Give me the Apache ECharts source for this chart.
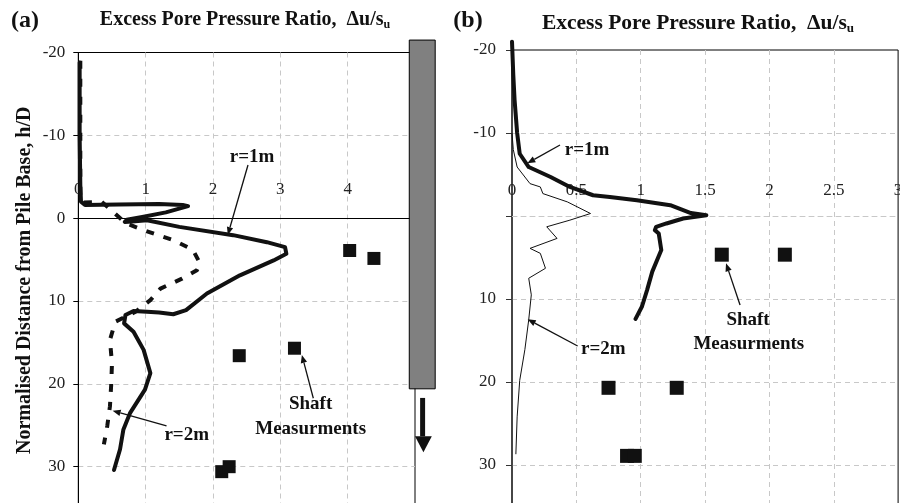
<!DOCTYPE html>
<html><head><meta charset="utf-8">
<script src="https://cdn.jsdelivr.net/npm/echarts@6/dist/echarts.min.js"></script>
<style>html,body{margin:0;padding:0;background:#fff}#c{width:900px;height:503px}</style>
</head><body><div id="c"></div>
<script>
// ---------- data ----------
const xTicksA = [0, 1, 2, 3, 4];
const yTicksA = [-20, -10, 0, 10, 20, 30];
const xTicksB = [0, 0.5, 1, 1.5, 2, 2.5, 3];
const yTicksB = [-20, -10, 10, 20, 30];

// panel (a): [excess pore pressure ratio, h/D]
const panelA_r1m = [[0.02,-18.8],[0.02,-10],[0.03,-4],[0.04,-2.0],[0.1,-1.6],[0.6,-1.65],[1.2,-1.7],[1.55,-1.6],[1.63,-1.45],[1.3,-0.7],[0.95,-0.15],[0.72,0.2],[0.69,0.45],[0.8,0.4],[1.02,0.25],[1.5,1.05],[2.3,2.05],[2.8,2.9],[3.07,3.5],[3.09,4.3],[2.9,5.1],[2.4,6.9],[1.91,9.1],[1.6,11.1],[1.41,11.6],[1.2,11.4],[1.02,11.3],[0.82,11.2],[0.7,11.7],[0.68,12.7],[0.82,13.7],[0.97,15.9],[1.07,18.7],[0.99,20.7],[0.77,23.5],[0.67,25.5],[0.62,27.9],[0.53,30.4]];
const panelA_r2m = [[0.03,-19],[0.03,-10],[0.03,-3],[0.05,-1.9],[0.35,-1.95],[0.5,-0.9],[0.7,0.6],[0.97,1.45],[1.41,2.65],[1.7,3.8],[1.81,5.5],[1.76,6.3],[1.54,7.3],[1.22,8.5],[1.07,9.9],[0.85,11.3],[0.55,12.5],[0.47,14.7],[0.5,17.5],[0.49,19.9],[0.47,22.7],[0.43,25.1],[0.38,27.3]];
const panelA_shaft = [[4.03,3.9],[4.39,4.86],[2.39,16.6],[3.21,15.7],[2.13,30.6],[2.24,30.0]];

// panel (b)
const panelB_r1m = [[0.0,-21],[0.01,-17],[0.02,-14],[0.04,-10],[0.06,-7.5],[0.13,-5.9],[0.3,-4.7],[0.45,-3.5],[0.63,-2.5],[0.76,-2.3],[0.97,-1.9],[1.23,-1.3],[1.39,-0.35],[1.51,-0.1],[1.33,0.3],[1.2,0.9],[1.12,1.3],[1.11,1.7],[1.14,2.1],[1.16,4.1],[1.09,6.7],[1.05,8.9],[1.01,10.9],[0.96,12.4]];
const panelB_r2m = [[0.0,-10],[0.01,-8],[0.04,-5.9],[0.14,-3.9],[0.22,-3.5],[0.24,-2.7],[0.43,-1.7],[0.61,-0.3],[0.45,0.5],[0.27,1.3],[0.35,2.7],[0.14,3.9],[0.22,4.5],[0.26,6.3],[0.13,7.5],[0.15,9.5],[0.13,12.5],[0.1,16.1],[0.06,19.8],[0.04,24.2],[0.03,28.7]];
const panelB_shaft = [[1.63,4.66],[2.12,4.66],[0.75,20.7],[1.28,20.7],[0.894,28.9],[0.954,28.9]];

// annotations (data coordinates of each panel)
const notesA = [
  {text: 'r=1m', at: [2.58, -7.4], from: [2.52, -6.42], to: [2.22, 2.03]},
  {text: 'Shaft', at: [3.45, 22.4], from: [3.49, 21.74], to: [3.32, 16.51]},
  {text: 'Measurments', at: [3.45, 25.45]},
  {text: 'r=2m', at: [1.61, 26.2], from: [1.31, 25.08], to: [0.51, 23.24]}
];
const notesB = [
  {text: 'r=1m', at: [0.583, -7.95], from: [0.373, -8.55], to: [0.119, -6.35]},
  {text: 'r=2m', at: [0.71, 16.06], from: [0.51, 15.66], to: [0.122, 12.45]},
  {text: 'Shaft', at: [1.834, 12.53], from: [1.772, 10.72], to: [1.663, 5.7]},
  {text: 'Measurments', at: [1.84, 15.46]}
];
const titleText = 'Excess Pore Pressure Ratio,  \u0394u/s';
const yTitle = 'Normalised Distance from Pile Base, h/D';

// ---------- chart ----------
const FONT = "'Liberation Serif', 'Times New Roman', serif";
const gridLine = {color: '#c8c8c8', type: [5, 4], width: 1};
const chart = echarts.init(document.getElementById('c'), null, {renderer: 'canvas'});

function tickFmt(list) { return v => (list.some(t => Math.abs(t - v) < 1e-9) ? String(v) : ''); }
const lbl = (margin, list) => ({margin, fontFamily: FONT, fontSize: 17, color: '#222', formatter: tickFmt(list)});
const GRID_TOP = [52.5, 50];

const option = {
  animation: false,
  backgroundColor: '#fff',
  grid: [
    {left: 78.3, top: GRID_TOP[0], width: 336.7, height: 455.6, show: true, borderColor: '#000', borderWidth: 1, outerBoundsMode: 'none'},
    {left: 512, top: GRID_TOP[1], width: 386.1, height: 456.5, show: true, borderColor: '#000', borderWidth: 1, outerBoundsMode: 'none'}
  ],
  xAxis: [
    {gridIndex: 0, type: 'value', min: 0, max: 5, interval: 1, position: 'top', offset: 0,
     axisLine: {show: true, onZero: false, lineStyle: {color: '#000', width: 1}},
     axisTick: {show: false}, axisLabel: lbl(20, xTicksA),
     splitLine: {show: true, showMinLine: false, showMaxLine: false, lineStyle: gridLine}},
    {gridIndex: 1, type: 'value', min: 0, max: 3, interval: 0.5, position: 'top', offset: 0,
     axisLine: {show: true, onZero: false, lineStyle: gridLine},
     axisTick: {show: false}, axisLabel: lbl(17, xTicksB),
     splitLine: {show: true, showMinLine: false, showMaxLine: false, lineStyle: gridLine}}
  ],
  yAxis: [
    {gridIndex: 0, type: 'value', inverse: true, min: -20, max: 35, interval: 10,
     axisLine: {show: true, onZero: false, lineStyle: {color: '#000', width: 1}},
     axisTick: {show: true, length: 5, lineStyle: {color: '#000'}},
     axisLabel: lbl(13, yTicksA),
     splitLine: {show: true, showMinLine: false, lineStyle: gridLine},
     name: yTitle, nameLocation: 'middle', nameGap: 43,
     nameTextStyle: {fontFamily: FONT, fontSize: 20, fontWeight: 'bold', color: '#111'}},
    {gridIndex: 1, type: 'value', inverse: true, min: -20, max: 35, interval: 10,
     axisLine: {show: true, onZero: false, lineStyle: {color: '#333', width: 1.5}},
     axisTick: {show: true, length: 6, lineStyle: {color: '#333'}},
     axisLabel: lbl(16, yTicksB),
     splitLine: {show: true, showMinLine: false, lineStyle: gridLine}}
  ],
  series: [
    {type: 'line', xAxisIndex: 0, yAxisIndex: 0, data: panelA_r2m, showSymbol: false, z: 3,
     lineStyle: {color: '#111', width: 4, type: [8, 10], cap: 'butt', join: 'round'}},
    {type: 'line', xAxisIndex: 0, yAxisIndex: 0, data: panelA_r1m, showSymbol: false, z: 4,
     lineStyle: {color: '#111', width: 4, cap: 'round', join: 'round'}},
    {type: 'scatter', xAxisIndex: 0, yAxisIndex: 0, data: panelA_shaft, symbol: 'rect', symbolSize: 13, z: 5,
     itemStyle: {color: '#111', opacity: 1}},
    {type: 'line', xAxisIndex: 1, yAxisIndex: 1, data: panelB_r2m, showSymbol: false, z: 3,
     lineStyle: {color: '#111', width: 1, join: 'round'}},
    {type: 'line', xAxisIndex: 1, yAxisIndex: 1, data: panelB_r1m, showSymbol: false, z: 4, clip: false,
     lineStyle: {color: '#111', width: 4, cap: 'round', join: 'round'}},
    {type: 'scatter', xAxisIndex: 1, yAxisIndex: 1, data: panelB_shaft, symbol: 'rect', symbolSize: 14, z: 5,
     itemStyle: {color: '#111', opacity: 1}}
  ]
};
chart.setOption(option);

const P = (g, p) => chart.convertToPixel({gridIndex: g}, p);
// place each x axis (with its labels) on the h/D = 0 line, through the y scale
chart.setOption({xAxis: [
  {offset: -(P(0, [0, 0])[1] - GRID_TOP[0])},
  {offset: -(P(1, [0, 0])[1] - GRID_TOP[1])}
]});

// ---------- annotations (positioned through the axes) ----------
const gfx = [];
function titleEl(x, y, fs) {
  return {type: 'text', x, y, z: 100, style: {
    text: '{m|' + titleText + '}{s|u}', align: 'center', verticalAlign: 'middle',
    rich: {
      m: {fontFamily: FONT, fontSize: fs, fontWeight: 'bold', fill: '#111', lineHeight: fs + 2},
      s: {fontFamily: FONT, fontSize: Math.round(fs * 0.62), fontWeight: 'bold', fill: '#111', verticalAlign: 'bottom', lineHeight: fs + 2}
    }}};
}
function txt(x, y, text, fs) {
  return {type: 'text', x, y, z: 100, style: {text, fontFamily: FONT, fontSize: fs, fontWeight: 'bold', fill: '#111', align: 'center', verticalAlign: 'middle'}};
}
function arrow(a, b, len, half, w) {
  const dx = b[0] - a[0], dy = b[1] - a[1], L = Math.hypot(dx, dy), ux = dx / L, uy = dy / L;
  const bx = b[0] - ux * len, by = b[1] - uy * len;
  gfx.push({type: 'line', z: 100, shape: {x1: a[0], y1: a[1], x2: bx, y2: by}, style: {stroke: '#111', lineWidth: w}});
  gfx.push({type: 'polygon', z: 100, shape: {points: [[b[0], b[1]], [bx - uy * half, by + ux * half], [bx + uy * half, by - ux * half]]}, style: {fill: '#111'}});
}
gfx.push(txt(25, 21, '(a)', 24));
gfx.push(txt(468, 21, '(b)', 24));
gfx.push(titleEl(245, 20, 20));
gfx.push(titleEl(698, 23.4, 21.5));
[[0, notesA], [1, notesB]].forEach(([g, notes]) => {
  notes.forEach(n => {
    const c = P(g, n.at);
    gfx.push(txt(c[0], c[1], n.text, 19));
    if (n.from) arrow(P(g, n.from), P(g, n.to), 8, 3.2, 1.3);
  });
});
// pile schematic in panel (a)
const pTL = P(0, [4.915, -21.5]), pBR = P(0, [5.30, 20.6]);
gfx.push({type: 'rect', z: 90, shape: {x: pTL[0], y: pTL[1], width: pBR[0] - pTL[0], height: pBR[1] - pTL[1]},
  style: {fill: '#808080', stroke: '#000', lineWidth: 1}});
const s1 = P(0, [5.076, 21.7]), s2 = P(0, [5.15, 26.33]);
gfx.push({type: 'rect', z: 90, shape: {x: s1[0], y: s1[1], width: s2[0] - s1[0], height: s2[1] - s1[1]}, style: {fill: '#111'}});
const h1 = P(0, [5.0, 26.33]), h2 = P(0, [5.25, 26.33]), h3 = P(0, [5.125, 28.26]);
gfx.push({type: 'polygon', z: 90, shape: {points: [h1, h2, h3]}, style: {fill: '#111'}});
chart.setOption({graphic: gfx});
</script></body></html>
